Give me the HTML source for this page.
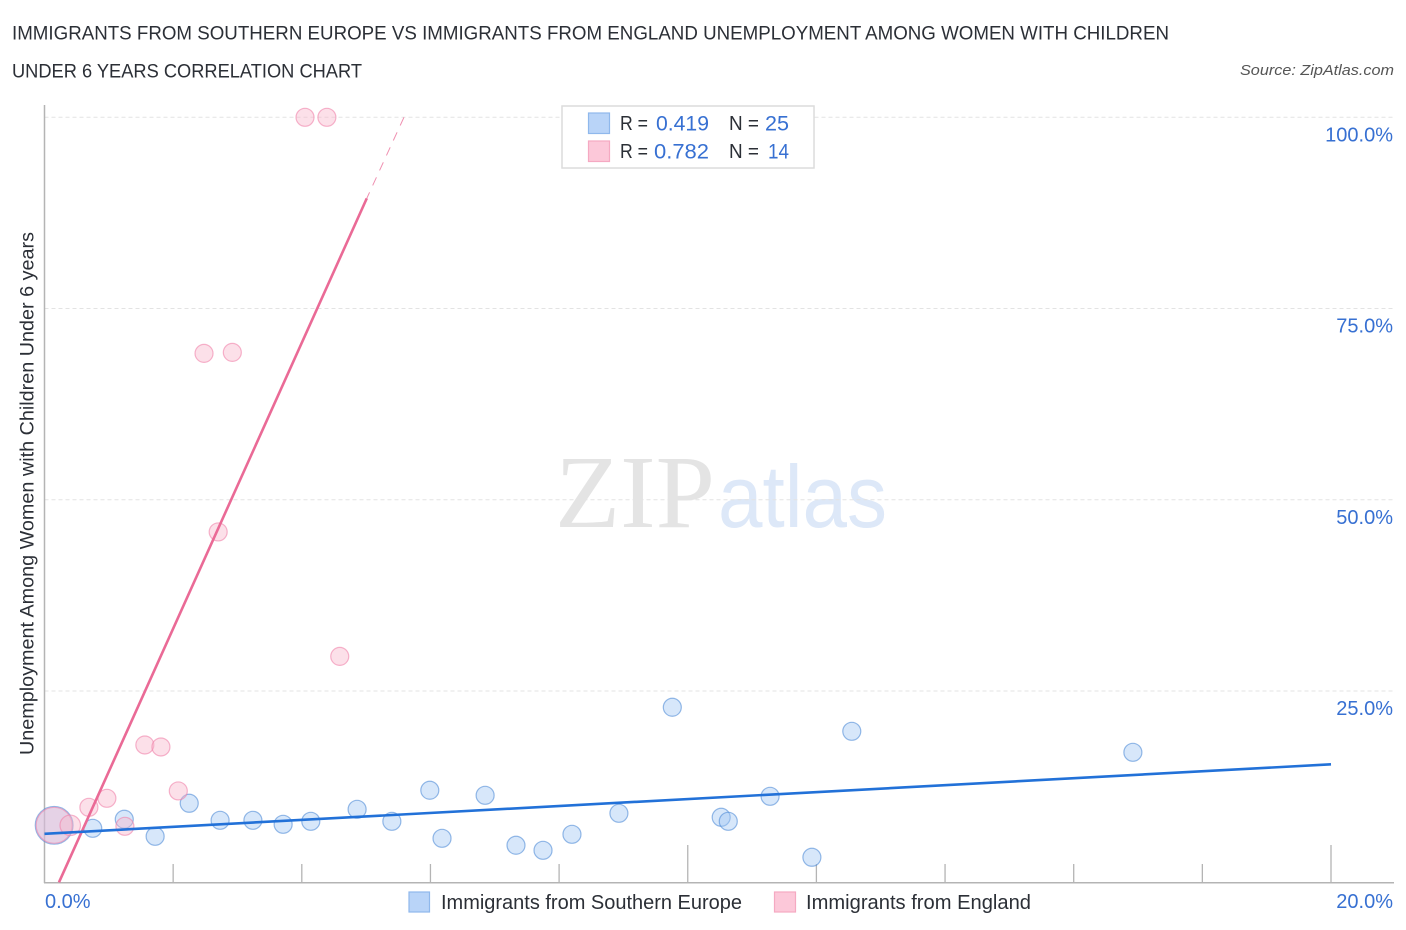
<!DOCTYPE html>
<html lang="en">
<head>
<meta charset="utf-8">
<title>Correlation Chart</title>
<style>
html,body{margin:0;padding:0;background:#fff;}
body{width:1406px;height:930px;overflow:hidden;}
svg{display:block;font-family:"Liberation Sans",sans-serif;}
</style>
</head>
<body>
<svg id="chart" width="1406" height="930" viewBox="0 0 1406 930">
  <text x="12" y="39.5" font-size="19.5" fill="#2b2f36" textLength="1157" lengthAdjust="spacingAndGlyphs">IMMIGRANTS FROM SOUTHERN EUROPE VS IMMIGRANTS FROM ENGLAND UNEMPLOYMENT AMONG WOMEN WITH CHILDREN</text>
  <text x="12" y="77.5" font-size="19.5" fill="#2b2f36" textLength="350" lengthAdjust="spacingAndGlyphs">UNDER 6 YEARS CORRELATION CHART</text>
  <text x="1394" y="75" font-size="15" font-style="italic" fill="#555" text-anchor="end" textLength="154" lengthAdjust="spacingAndGlyphs">Source: ZipAtlas.com</text>

  <g>
    <text x="555" y="527" font-family="'Liberation Serif',serif" font-size="104" fill="#e4e4e4" textLength="160" lengthAdjust="spacingAndGlyphs">ZIP</text>
    <text x="718" y="527" font-size="88" fill="#dde8f8" textLength="169" lengthAdjust="spacingAndGlyphs">atlas</text>
  </g>

  <g id="grid"></g>
  <g id="axes"></g>
  <g id="points"></g>
  <g id="lines"></g>
  <g id="labels"></g>

  <text transform="translate(33.5,493.5) rotate(-90)" font-size="19" fill="#2b2f36" text-anchor="middle" textLength="523" lengthAdjust="spacingAndGlyphs">Unemployment Among Women with Children Under 6 years</text>

  <g>
    <rect x="562" y="106" width="252" height="62" fill="#fff" stroke="#dcdcdc" stroke-width="1.5"/>
    <rect x="588.5" y="113" width="21" height="20.5" fill="#b9d4f8" stroke="#8fb8ec" stroke-width="1.2"/>
    <rect x="588.5" y="141" width="21" height="20.5" fill="#fcc8d9" stroke="#f5a9c2" stroke-width="1.2"/>
    <g font-size="20" fill="#2b2f36">
      <text x="620" y="130" textLength="28" lengthAdjust="spacingAndGlyphs">R =</text>
      <text x="729" y="130" textLength="30" lengthAdjust="spacingAndGlyphs">N =</text>
      <text x="620" y="158" textLength="28" lengthAdjust="spacingAndGlyphs">R =</text>
      <text x="729" y="158" textLength="30" lengthAdjust="spacingAndGlyphs">N =</text>
    </g>
    <g font-size="21.5" fill="#3770d2">
      <text x="656" y="130.5" textLength="53" lengthAdjust="spacingAndGlyphs">0.419</text>
      <text x="765" y="130.5" textLength="24" lengthAdjust="spacingAndGlyphs">25</text>
      <text x="654" y="158.5" textLength="55" lengthAdjust="spacingAndGlyphs">0.782</text>
      <text x="768" y="158.5" textLength="21" lengthAdjust="spacingAndGlyphs">14</text>
    </g>
  </g>

  <g>
    <g>
      <rect x="409" y="892" width="20.5" height="20" fill="#b9d4f8" stroke="#8fb8ec" stroke-width="1.2"/>
      <text x="441" y="909" font-size="20" fill="#2b2f36" textLength="301" lengthAdjust="spacingAndGlyphs">Immigrants from Southern Europe</text>
    </g>
    <g>
      <rect x="774.5" y="892" width="21" height="20" fill="#fcc8d9" stroke="#f5a9c2" stroke-width="1.2"/>
      <text x="806" y="909" font-size="20" fill="#2b2f36" textLength="225" lengthAdjust="spacingAndGlyphs">Immigrants from England</text>
    </g>
  </g>
</svg>
<script>
const yTickValues = [25, 50, 75, 100];
const yTickLabels = ['25.0%', '50.0%', '75.0%', '100.0%'];
const xTickValues = [0, 2, 4, 6, 8, 10, 12, 14, 16, 18, 20];
const xMajorTicks = [10, 20];
const xEndLabels = ['0.0%', '20.0%'];

const blueX = [0.15, 0.75, 1.24, 1.72, 2.25, 2.73, 3.24, 3.71, 4.14, 4.86, 5.40, 5.99, 6.18, 6.85, 7.33, 7.75, 8.20, 8.93, 9.76, 10.52, 10.63, 11.28, 11.93, 12.55, 16.92];
const blueY = [7.45, 7.06, 8.24, 6.01, 10.33, 8.10, 8.10, 7.58, 7.97, 9.54, 7.97, 12.03, 5.75, 11.37, 4.84, 4.18, 6.27, 9.02, 22.88, 8.50, 7.97, 11.24, 3.27, 19.74, 16.99];
const blueWeight = [4.4, 1, 1, 1, 1, 1, 1, 1, 1, 1, 1, 1, 1, 1, 1, 1, 1, 1, 1, 1, 1, 1, 1, 1, 1];

const pinkX = [0.15, 0.40, 0.69, 0.97, 1.25, 1.56, 1.81, 2.08, 2.48, 2.92, 2.70, 4.05, 4.39, 4.59];
const pinkY = [7.45, 7.45, 9.80, 10.98, 7.32, 17.95, 17.69, 11.94, 69.14, 69.27, 45.80, 100, 100, 29.53];
const pinkWeight = [4, 1.3, 1, 1, 1, 1, 1, 1, 1, 1, 1, 1, 1, 1];

const blueTrendX = [0, 20];
const blueTrendY = [6.34, 15.42];
const pinkTrendX = [0.225, 5.01];
const pinkTrendY = [0, 89.4];
const pinkDashedX = [5.588, 5.01];
const pinkDashedY = [100, 89.4];

const NS = 'http://www.w3.org/2000/svg';
const xScale = v => 44.5 + v * 64.325;
const yScale = v => 882.3 - v * 7.65;
const radius = w => 9 * Math.sqrt(w);

function make(parentId, tag, attrs, text) {
  const node = document.createElementNS(NS, tag);
  for (const key in attrs) node.setAttribute(key, attrs[key]);
  if (text !== undefined) node.textContent = text;
  document.getElementById(parentId).appendChild(node);
  return node;
}

yTickValues.forEach((v, i) => {
  const el = make('grid', 'line', {x1: 44.5, x2: 1394, y1: yScale(v), y2: yScale(v), stroke: '#e3e3e3', 'stroke-width': 1, 'stroke-dasharray': '4 3'});
  
  
  const lab = make('labels', 'text', {x: 1393, y: yScale(v) + 24, 'text-anchor': 'end', 'font-size': 20, fill: '#3770d2'}, yTickLabels[i]);
  
  
});

const yAxis = make('axes', 'line', {x1: 44.5, x2: 44.5, y1: 105, y2: 883, stroke: '#b4b4b4', 'stroke-width': 1.5});


const xAxis = make('axes', 'line', {x1: 44, x2: 1394, y1: 882.7, y2: 882.7, stroke: '#b4b4b4', 'stroke-width': 1.5});



xTickValues.slice(1).forEach(v => {
  const top = xMajorTicks.includes(v) ? 845 : 864;
  const tick = make('axes', 'line', {x1: xScale(v), x2: xScale(v), y1: top, y2: 882, stroke: '#b4b4b4', 'stroke-width': 1.3});
  
  
});

const xLab0 = make('labels', 'text', {x: 45, y: 908, 'font-size': 20, fill: '#3770d2'}, xEndLabels[0]);


const xLab1 = make('labels', 'text', {x: 1393, y: 908, 'text-anchor': 'end', 'font-size': 20, fill: '#3770d2'}, xEndLabels[1]);



blueX.forEach((x, i) => {
  const pt = make('points', 'circle', {cx: xScale(x), cy: yScale(blueY[i]), r: radius(blueWeight[i]), fill: 'rgba(160,198,244,0.42)', stroke: 'rgba(80,140,215,0.6)', 'stroke-width': 1.2});
  
  
});
pinkX.forEach((x, i) => {
  const pt = make('points', 'circle', {cx: xScale(x), cy: yScale(pinkY[i]), r: radius(pinkWeight[i]), fill: 'rgba(248,180,203,0.42)', stroke: 'rgba(240,130,170,0.6)', 'stroke-width': 1.2});
  
  
});

const pinkLine = make('lines', 'line', {x1: xScale(pinkTrendX[0]), y1: yScale(pinkTrendY[0]), x2: xScale(pinkTrendX[1]), y2: yScale(pinkTrendY[1]), stroke: '#ea6a96', 'stroke-width': 2.6});


const pinkDash = make('lines', 'line', {x1: xScale(pinkDashedX[0]), y1: yScale(pinkDashedY[0]), x2: xScale(pinkDashedX[1]), y2: yScale(pinkDashedY[1]), stroke: '#ea6a96', 'stroke-width': 1, 'stroke-dasharray': '9 7.5', opacity: 0.75});


const blueLine = make('lines', 'line', {x1: xScale(blueTrendX[0]), y1: yScale(blueTrendY[0]), x2: xScale(blueTrendX[1]), y2: yScale(blueTrendY[1]), stroke: '#2271d8', 'stroke-width': 2.6});


</script>
</body>
</html>
